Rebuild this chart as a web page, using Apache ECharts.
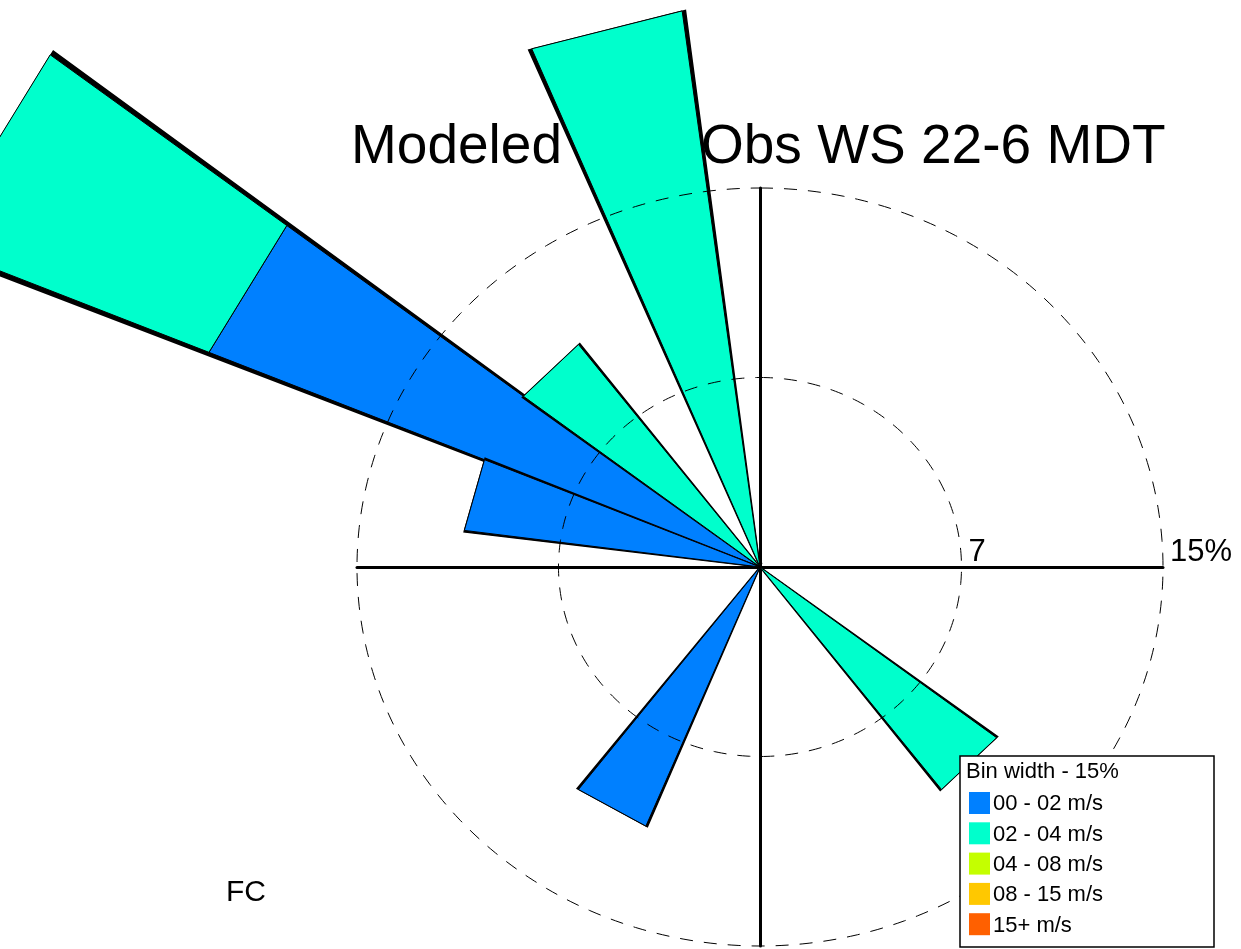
<!DOCTYPE html>
<html>
<head>
<meta charset="utf-8">
<script src="https://cdn.jsdelivr.net/npm/echarts@6/dist/echarts.min.js"></script>
<style>
html,body{margin:0;padding:0;background:#ffffff;}
#chart{width:1241px;height:949px;}
</style>
</head>
<body>
<div id="chart"></div>
<script>
// ---- data ----
const directions = [345, 300, 315, 285, 210, 135];           // sector centre, degrees clockwise from north
const speedBins  = ['00 - 02 m/s', '02 - 04 m/s', '04 - 08 m/s', '08 - 15 m/s', '15+ m/s'];
const binColors  = ['#0080FF', '#00FFCC', '#C4FF00', '#FFC800', '#FF6000'];
const freq0002   = [0,    22.2, 0,    11.1, 11.1, 0   ];     // % per direction
const freq0204   = [22.2, 11.1, 11.1, 0,    0,    11.1];
const freq0408   = [0, 0, 0, 0, 0, 0];
const freq0815   = [0, 0, 0, 0, 0, 0];
const freq15p    = [0, 0, 0, 0, 0, 0];
const sectorWidth = 15;
const ringValues = [7.5, 15];
const ringLabels = ['7', '15%'];
const titleLeftText  = 'Modeled';
const titleRightText = 'Obs WS 22-6 MDT';
const legendTitle = 'Bin width - 15%';
const cornerLabel = 'FC';

// ---- build ----
const FONT = "'Liberation Sans', Arial, sans-serif";
const binSeries = [freq0002, freq0204, freq0408, freq0815, freq15p];
const wedgeData = directions.map((d, i) => [d].concat(binSeries.map(s => s[i])));

function pt(api, r, deg) {
  const t = deg * Math.PI / 180;
  return api.coord([r * Math.sin(t), r * Math.cos(t)]);
}
function wedgePts(api, r0, r1, a0, a1) {
  const pts = [];
  if (r0 > 0) pts.push(pt(api, r0, a0)); else pts.push(pt(api, 0, 0));
  pts.push(pt(api, r1, a0));
  pts.push(pt(api, r1, a1));
  if (r0 > 0) pts.push(pt(api, r0, a1));
  return pts;
}

function renderWedge(params, api) {
  const dir = api.value(0);
  const a0 = dir - sectorWidth / 2, a1 = dir + sectorWidth / 2;
  let total = 0;
  const vals = [];
  for (let k = 0; k < speedBins.length; k++) { const v = api.value(k + 1); vals.push(v); total += v; }
  const children = [];
  if (total > 0) {
    children.push({
      type: 'polygon',
      shape: { points: wedgePts(api, 0, total, a0 - 0.32, a1 + 0.32) },
      style: { fill: '#000', stroke: '#000', lineWidth: 1.5 }
    });
  }
  let base = 0;
  for (let k = 0; k < vals.length; k++) {
    if (vals[k] > 0) {
      children.push({
        type: 'polygon',
        shape: { points: wedgePts(api, base, base + vals[k], a0, a1) },
        style: { fill: binColors[k], stroke: '#000', lineWidth: 1 }
      });
      base += vals[k];
    }
  }
  return { type: 'group', children: children };
}

function renderRing(params, api) {
  const r = api.value(0);
  const pts = [];
  for (let a = 0; a <= 360; a += 1) pts.push(pt(api, r, a));
  const lp = pt(api, r, 90);
  return {
    type: 'group',
    children: [
      { type: 'polyline', shape: { points: pts },
        style: { fill: null, stroke: '#000', lineWidth: 1, lineDash: [13, 11] } },
      { type: 'text', x: lp[0] + 7, y: lp[1] - 4 - 0.8465 * 31,
        style: { text: ringLabels[params.dataIndex], font: '31px ' + FONT, fill: '#000', verticalAlign: 'top', align: 'left' } }
    ]
  };
}

// legend graphic
const LZ = 100;
const legendChildren = [
  { type: 'rect', z: LZ, shape: { x: 960, y: 756, width: 254, height: 191 },
    style: { fill: '#fff', stroke: '#000', lineWidth: 1.5 } },
  { type: 'text', z: LZ + 1, x: 966, y: 780 - 0.8465 * 22,
    style: { text: legendTitle, font: '22px ' + FONT, fill: '#000', verticalAlign: 'top' } }
];
speedBins.forEach((name, i) => {
  legendChildren.push({ type: 'rect', z: LZ + 1, shape: { x: 969, y: 792 + i * 30.3, width: 21, height: 22 },
    style: { fill: binColors[i] } });
  legendChildren.push({ type: 'text', z: LZ + 1, x: 993, y: 812 + i * 30.3 - 0.8465 * 22,
    style: { text: name, font: '22px ' + FONT, fill: '#000', verticalAlign: 'top' } });
});

const chart = echarts.init(document.getElementById('chart'), null, { renderer: 'canvas' });
chart.setOption({
  animation: false,
  backgroundColor: '#ffffff',
  title: [
    { text: titleLeftText, left: 351, top: 120, padding: 0, z: 1,
      textStyle: { fontSize: 55, fontWeight: 'normal', fontFamily: FONT, color: '#000' } },
    { text: titleRightText, left: 701, top: 120, padding: 0, z: 1,
      textStyle: { fontSize: 55, fontWeight: 'normal', fontFamily: FONT, color: '#000' } }
  ],
  grid: { left: 357, top: 188, width: 806, height: 758, containLabel: false },
  xAxis: { type: 'value', min: -15, max: 15,
    axisLine: { onZero: true, lineStyle: { color: '#000', width: 3 } },
    axisTick: { show: false }, axisLabel: { show: false }, splitLine: { show: false } },
  yAxis: { type: 'value', min: -15, max: 15,
    axisLine: { onZero: true, lineStyle: { color: '#000', width: 3 } },
    axisTick: { show: false }, axisLabel: { show: false }, splitLine: { show: false } },
  graphic: [
    { type: 'text', x: 226, y: 903 - 0.8465 * 30, z: 50,
      style: { text: cornerLabel, font: '30px ' + FONT, fill: '#000', verticalAlign: 'top' } }
  ].concat(legendChildren),
  series: [
    { type: 'custom', coordinateSystem: 'cartesian2d', clip: false, z: 5,
      renderItem: renderWedge, data: wedgeData, silent: true },
    { type: 'custom', coordinateSystem: 'cartesian2d', clip: false, z: 6,
      renderItem: renderRing, data: ringValues.map(v => [v]), silent: true }
  ]
});
</script>
</body>
</html>
